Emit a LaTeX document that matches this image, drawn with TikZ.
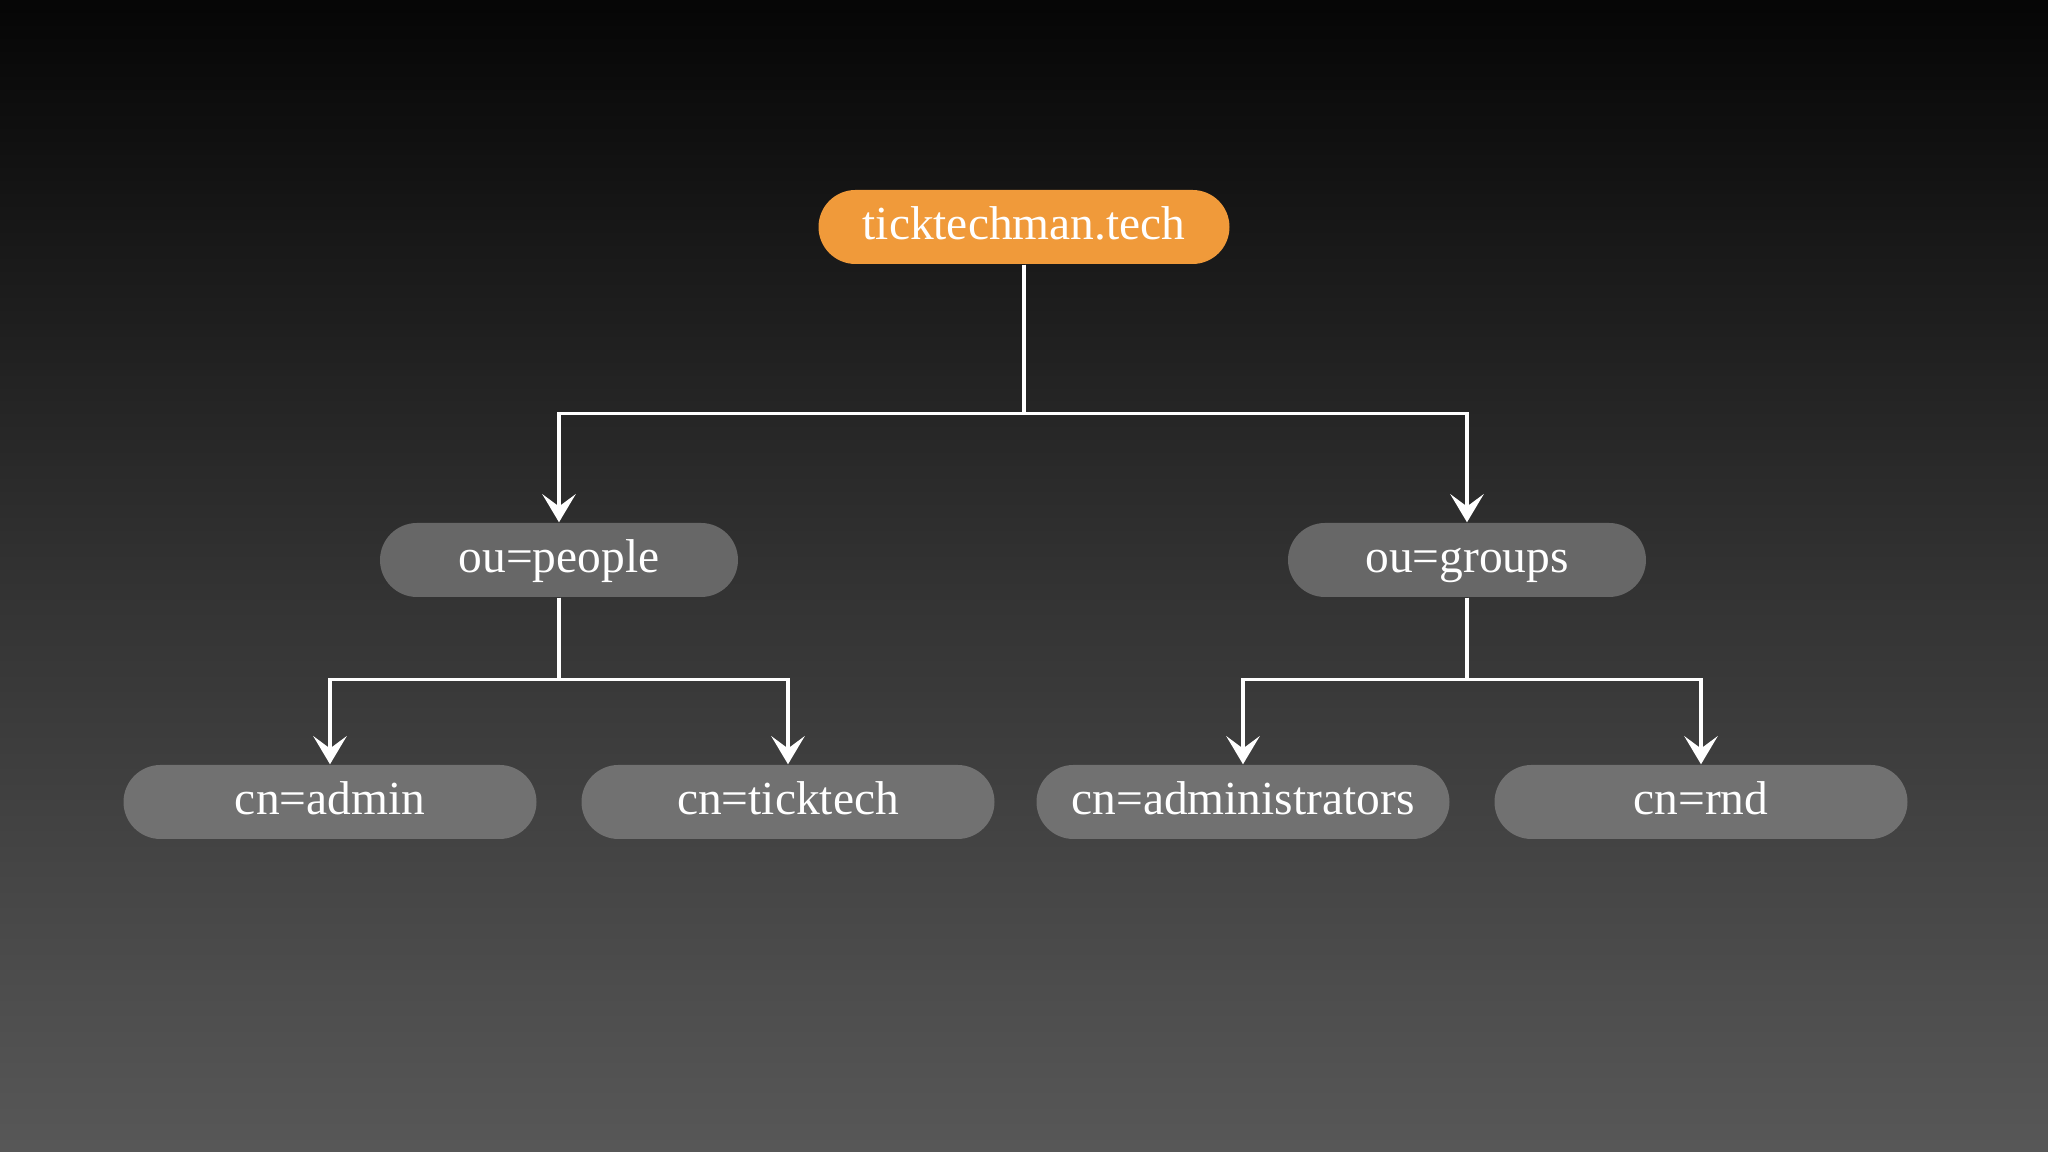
\documentclass[tikz,border=0pt]{standalone}
\usepackage{fontspec}
\setmainfont{Liberation Serif}
\usetikzlibrary{arrows.meta}
\definecolor{rootorange}{HTML}{F09A3A}
\definecolor{ougray}{HTML}{676767}
\definecolor{cngray}{HTML}{717171}
\definecolor{bgtop}{HTML}{000000}
\definecolor{bgmid}{HTML}{323232}
\definecolor{bgbot}{HTML}{5C5C5C}
% only the middle 56.25bp of the 100bp square is visible on a 16:9 box
\pgfdeclareverticalshading{bgfade}{100bp}{color(0bp)=(bgbot); color(21.875bp)=(bgbot);
    color(50bp)=(bgmid); color(78.125bp)=(bgtop); color(100bp)=(bgtop)}

\begin{document}
\begin{tikzpicture}[level 1/.style={level distance=3.33cm, sibling distance=9.08cm,
                    edge from parent path={(\tikzparentnode.south) -- ++(0,-1.49) -| (\tikzchildnode.north)}},
                level 2/.style={level distance=2.42cm, sibling distance=4.58cm,
                    edge from parent path={(\tikzparentnode.south) -- ++(0,-0.82) -| (\tikzchildnode.north)}},
                edge from parent/.style={draw=white, line width=1pt, -{Stealth[length=8pt,width=9.5pt,inset=3.5pt]}},
                every node/.style={rounded corners=0.37cm, minimum height=0.74cm, text=white,
                    text height=7.4pt, text depth=0pt, font=\fontsize{13.5}{16}\selectfont},
                rootbox/.style={fill=rootorange, minimum width=4.11cm},
                oubox/.style={fill=ougray, minimum width=3.58cm},
                cnbox/.style={fill=cngray, minimum width=4.13cm}
            ]
            \shade[shading=bgfade] (0,0) rectangle (20.48,11.52);
            \useasboundingbox (0,0) rectangle (20.48,11.52);
            \node[rootbox] (root) at (10.24,9.25) {ticktechman.tech}
            child[xshift=-0.11cm] { node[oubox] (people) {ou=people}
                child { node[cnbox] (admin) {cn=admin} }
                child { node[cnbox] (ticktech) {cn=ticktech} } }
            child[xshift=-0.11cm] { node[oubox] (groups) {ou=groups}
                child[xshift=0.05cm] { node[cnbox] (administrators) {cn=administrators} }
                child[xshift=0.05cm] { node[cnbox] (rnd) {cn=rnd} } };
        \end{tikzpicture}
\end{document}
